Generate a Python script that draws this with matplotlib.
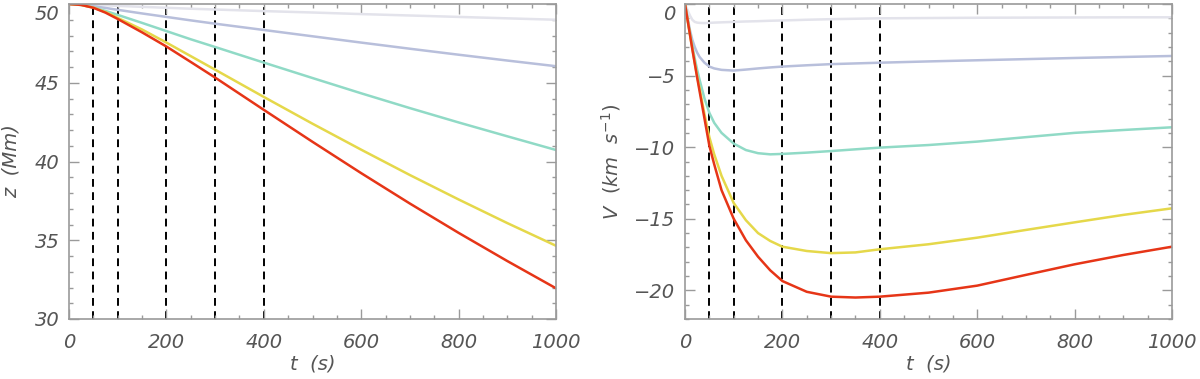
import numpy as np
import matplotlib.pyplot as plt
from matplotlib.transforms import ScaledTranslation

# height z(t) of the five runs
t_z = [0, 25, 50, 75, 100, 150, 200, 250, 300, 400, 500, 600, 700, 800, 900, 1000]
z_light = [50, 49.98, 49.95, 49.92, 49.88, 49.82, 49.76, 49.70, 49.65, 49.55, 49.46, 49.36, 49.27, 49.18, 49.09, 49.00]
z_blue = [50, 49.955, 49.86, 49.75, 49.63, 49.40, 49.18, 48.96, 48.75, 48.35, 47.95, 47.55, 47.16, 46.78, 46.41, 46.05]
z_teal = [50, 49.94, 49.78, 49.56, 49.31, 48.80, 48.28, 47.76, 47.27, 46.28, 45.30, 44.33, 43.39, 42.48, 41.60, 40.73]
z_yellow = [50, 49.94, 49.77, 49.49, 49.12, 48.38, 47.55, 46.69, 45.83, 44.10, 42.40, 40.75, 39.14, 37.59, 36.09, 34.65]
z_red = [50, 49.94, 49.76, 49.45, 49.05, 48.20, 47.30, 46.32, 45.33, 43.28, 41.25, 39.26, 37.33, 35.47, 33.68, 31.95]

# velocity V(t)
t_v = [0, 5, 10, 15, 20, 25, 30, 40, 50, 60, 75, 100, 125, 150, 175, 200,
       250, 300, 350, 400, 500, 600, 700, 800, 900, 1000]
v_light = [0, -0.4, -0.8, -1.1, -1.25, -1.3, -1.32, -1.33, -1.32, -1.3, -1.28, -1.25, -1.22,
           -1.2, -1.17, -1.15, -1.1, -1.06, -1.03, -1.0, -0.98, -0.96, -0.95, -0.94, -0.93, -0.93]
v_blue = [0, -0.9, -1.8, -2.5, -3.0, -3.4, -3.7, -4.1, -4.37, -4.5, -4.6, -4.65, -4.58,
          -4.5, -4.43, -4.37, -4.28, -4.2, -4.15, -4.1, -4.01, -3.93, -3.85, -3.77, -3.7, -3.63]
v_teal = [0, -1.0, -2.0, -2.9, -3.8, -4.6, -5.3, -6.6, -7.6, -8.3, -9.0, -9.75, -10.2,
          -10.42, -10.5, -10.47, -10.38, -10.27, -10.15, -10.03, -9.85, -9.61, -9.3, -9.0, -8.8, -8.61]
v_yellow = [0, -1.05, -2.1, -3.1, -4.1, -5.05, -5.9, -7.7, -9.3, -10.5, -12.0, -13.9, -15.1,
            -16.0, -16.55, -16.95, -17.25, -17.4, -17.35, -17.13, -16.78, -16.32, -15.78, -15.25, -14.73, -14.27]
v_red = [0, -1.05, -2.1, -3.15, -4.15, -5.15, -6.1, -8.0, -9.9, -11.2, -13.0, -15.0, -16.5,
         -17.65, -18.6, -19.35, -20.1, -20.44, -20.5, -20.44, -20.16, -19.67, -18.92, -18.18, -17.53, -16.95]

t_marks = [50, 100, 200, 300, 400]

colors = ['#e3e3eb', '#b8bfdb', '#90dac6', '#e5d84a', '#e63517']
axcol = '#9a9a9a'
txtcol = '#555555'

plt.rcParams['font.family'] = 'DejaVu Sans'
plt.rcParams['mathtext.fontset'] = 'dejavusans'
plt.rcParams['mathtext.default'] = 'it'

fig = plt.figure(figsize=(12, 3.79), dpi=100)
ax1 = fig.add_axes([69/1200, 60/379, 487/1200, 315/379])
ax2 = fig.add_axes([685/1200, 60/379, 487/1200, 315/379])


def style(ax):
    for s in ax.spines.values():
        s.set_color(axcol)
        s.set_linewidth(1.2)
    ax.tick_params(which='both', direction='in', top=True, right=True,
                   color=axcol, labelcolor=txtcol, labelsize=14)
    ax.tick_params(which='major', length=7, width=1.0)
    ax.tick_params(which='minor', length=3, width=1.0)
    ax.tick_params(axis='x', pad=10)
    ax.tick_params(axis='y', pad=7)
    for lab in ax.get_xticklabels() + ax.get_yticklabels():
        lab.set_fontstyle('italic')
    # top y label sits a bit lower, as in the original
    top = ax.yaxis.get_major_ticks()[-1].label1
    top.set_transform(top.get_transform() + ScaledTranslation(0, -9/100, fig.dpi_scale_trans))
    for x in t_marks:
        ax.axvline(x, color='black', ls=(0, (4, 2.8)), lw=1.4, zorder=1)


for z, c in zip([z_light, z_blue, z_teal, z_yellow, z_red], colors):
    ax1.plot(t_z, z, color=c, lw=1.8, zorder=2)
ax1.set_xlim(0, 1000)
ax1.set_ylim(30, 50)
ax1.set_xticks(np.arange(0, 1001, 200))
ax1.set_xticks(np.arange(0, 1001, 50), minor=True)
ax1.set_yticks(np.arange(30, 51, 5))
ax1.set_yticks(np.arange(30, 51, 1), minor=True)
style(ax1)
ax1.set_xlabel('t  (s)', fontsize=14, color=txtcol, style='italic', labelpad=2)
ax1.set_ylabel('z  (Mm)', fontsize=14, color=txtcol, style='italic', labelpad=10)

for v, c in zip([v_light, v_blue, v_teal, v_yellow, v_red], colors):
    ax2.plot(t_v, v, color=c, lw=1.8, zorder=2)
ax2.set_xlim(0, 1000)
ax2.set_ylim(-22, 0)
ax2.set_xticks(np.arange(0, 1001, 200))
ax2.set_xticks(np.arange(0, 1001, 50), minor=True)
ax2.set_yticks(np.arange(-20, 1, 5))
ax2.set_yticks(np.arange(-22, 1, 1), minor=True)
style(ax2)
ax2.set_xlabel('t  (s)', fontsize=14, color=txtcol, style='italic', labelpad=2)
ax2.set_ylabel(r'$V\ \ (km\ \ s^{-1})$', fontsize=14, color=txtcol, labelpad=8)

fig.savefig('out.png', dpi=100)
